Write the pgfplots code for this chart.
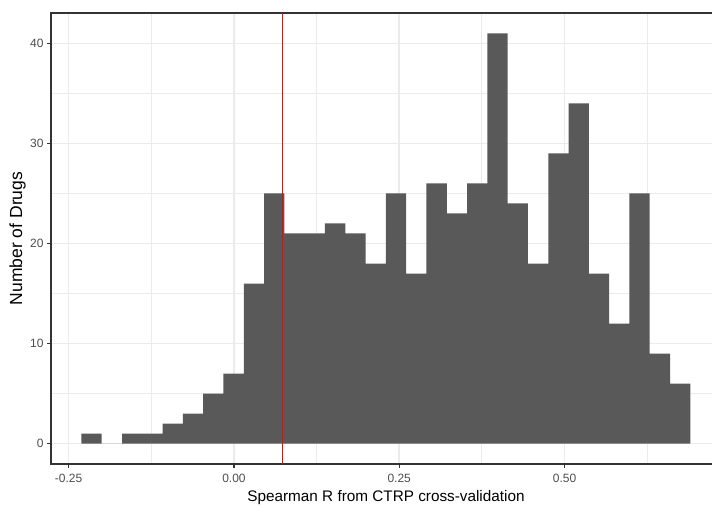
\documentclass[border=0pt]{standalone}
\usepackage{pgfplots}
\pgfplotsset{compat=1.18}
\usepackage{fontspec}
\setmainfont{Liberation Sans}

\definecolor{barfill}{HTML}{595959}
\definecolor{gridc}{HTML}{EBEBEB}
\definecolor{borderc}{HTML}{333333}
\definecolor{tickc}{HTML}{4D4D4D}

% Histogram of per-drug Spearman R: 30 bins, left edges and counts
% (last row closes the final bin)
\pgfplotstableread{
left     count
-0.2307  1
-0.2000  0
-0.1693  1
-0.1386  1
-0.1079  2
-0.0772  3
-0.0465  5
-0.0158  7
 0.0149  16
 0.0456  25
 0.0763  21
 0.1070  21
 0.1377  22
 0.1684  21
 0.1991  18
 0.2298  25
 0.2605  17
 0.2912  26
 0.3219  23
 0.3526  26
 0.3833  41
 0.4140  24
 0.4447  18
 0.4754  29
 0.5061  34
 0.5368  17
 0.5675  12
 0.5982  25
 0.6289  9
 0.6596  6
 0.6903  6
}\bins

\begin{document}
\begin{tikzpicture}
\useasboundingbox (0,0) rectangle (712bp,506bp);
\clip (0,0) rectangle (712bp,506bp);
\begin{axis}[
  at={(51bp,41.8bp)}, anchor=south west,
  scale only axis, width=670bp, height=451.4bp,
  xmin=-0.2767, xmax=0.7367, ymin=-2.05, ymax=43.05,
  xtick={-0.25,0,0.25,0.5},
  xticklabels={-0.25,0.00,0.25,0.50},
  ytick={0,10,20,30,40},
  minor xtick={-0.125,0.125,0.375,0.625},
  minor ytick={5,15,25,35},
  grid=both,
  major grid style={gridc, line width=1.5bp},
  minor grid style={gridc, line width=0.8bp},
  axis line style={borderc, line width=1.5bp},
  tick style={borderc, line width=1.3bp},
  tick align=outside, tick pos=left,
  major tick length=3.7bp, minor tick length=0pt,
  /pgf/number format/assume math mode=true,
  ticklabel style={font=\fontsize{12bp}{14bp}\selectfont, text=tickc, inner sep=0pt},
  xticklabel style={yshift=-6.5bp},
  yticklabel style={xshift=-3.6bp},
  xlabel={Spearman R from CTRP cross-validation},
  ylabel={Number of Drugs},
  every axis x label/.style={font=\fontsize{15.3bp}{18bp}\selectfont, inner sep=0pt,
    at={(axis description cs:0.5,0)}, anchor=north, yshift=-26.5bp},
  every axis y label/.style={font=\fontsize{17.5bp}{20bp}\selectfont, inner sep=0pt,
    at={(axis description cs:-0.0373,0.5)}, anchor=south, rotate=90},
]
\addplot[ybar interval, fill=barfill, draw=none] table[x=left, y=count]{\bins};
\addplot[red, line width=1.6bp, forget plot] coordinates {(0.0736,-2.05) (0.0736,43.05)};
\end{axis}
\end{tikzpicture}
\end{document}
